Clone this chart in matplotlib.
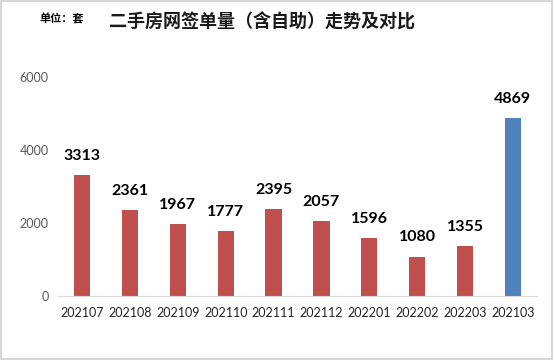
import matplotlib.pyplot as plt
from matplotlib.patches import Rectangle

plt.rcParams['font.family'] = ['Noto Sans CJK SC', 'DejaVu Sans']

months = ['202107', '202108', '202109', '202110', '202111', '202112',
          '202201', '202202', '202203', '202103']
counts = [3313, 2361, 1967, 1777, 2395, 2057, 1596, 1080, 1355, 4869]
colors = ['#C0504D'] * 9 + ['#4F81BD']
yticks = [0, 2000, 4000, 6000]

fig = plt.figure(figsize=(5.54, 3.60), dpi=100)
ax = fig.add_axes([0.105, 0.178, 0.864, 0.608])

x = range(len(months))
ax.bar(x, counts, width=0.34, color=colors)
for i, v in enumerate(counts):
    ax.text(i, v + 330, str(v), ha='center', va='bottom',
            fontsize=11.5, fontweight='bold', color='black', family='Lato')

ax.set_xlim(-0.5, len(months) - 0.5)
ax.set_ylim(0, 6000)
ax.set_yticks(yticks)
ax.set_yticklabels([str(t) for t in yticks], family='Lato')
ax.set_xticks(list(x))
ax.set_xticklabels(months, fontsize=9, color='#222222', family='Lato')
ax.tick_params(axis='y', labelsize=9, labelcolor='#595959', length=0, pad=7)
ax.tick_params(axis='x', length=0, pad=8)
for s in ['top', 'right', 'left']:
    ax.spines[s].set_visible(False)
ax.spines['bottom'].set_color('#D9D9D9')

fig.text(0.473, 0.938, '二手房网签单量（含自助）走势及对比', ha='center', va='center',
         fontsize=13, fontweight='bold', color='#1a1a1a')
fig.text(0.072, 0.948, '单位：套', ha='left', va='center',
         fontsize=8, fontweight='bold', color='black')

fig.patches.append(Rectangle((0.002, 0.003), 0.995, 0.994, transform=fig.transFigure,
                             fill=False, edgecolor='#D0D0D0', linewidth=1.2))

fig.savefig('out.png', dpi=100)
